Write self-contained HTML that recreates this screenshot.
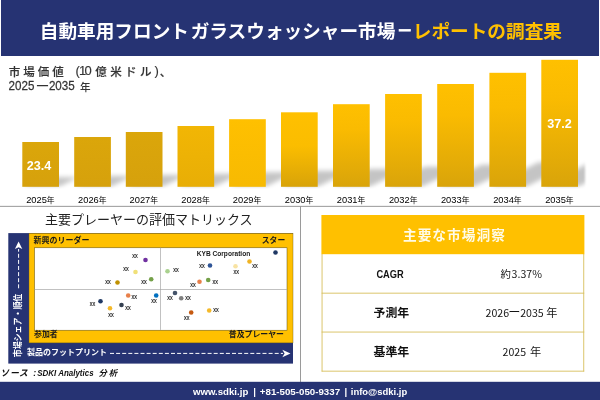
<!DOCTYPE html>
<html lang="ja"><head><meta charset="utf-8"><title>自動車用フロントガラスウォッシャー市場</title>
<style>
html,body{margin:0;padding:0;background:#fff;}
body{width:600px;height:400px;overflow:hidden;position:relative;}
svg{position:absolute;left:0;top:0;display:block;}
text{font-family:"Liberation Sans","Noto Sans CJK JP",sans-serif;}
.jp{font-family:"Noto Sans CJK JP","Liberation Sans",sans-serif;}
.lat{font-family:"Liberation Sans",sans-serif;}
</style></head><body>
<svg width="600" height="400" viewBox="0 0 600 400">
<defs>
<filter id="blur" x="-50%" y="-50%" width="200%" height="200%"><feGaussianBlur stdDeviation="2.2"/></filter>
<filter id="blur3" x="-5%" y="-5%" width="110%" height="110%"><feGaussianBlur stdDeviation="0.9"/></filter>
<linearGradient id="gA" x1="0" y1="0" x2="0" y2="1"><stop offset="0" stop-color="#DBA60A"/><stop offset="1" stop-color="#D6A10C"/></linearGradient>
<linearGradient id="gB" x1="0" y1="0" x2="0" y2="1"><stop offset="0" stop-color="#F2B604"/><stop offset="1" stop-color="#E8AE06"/></linearGradient>
<linearGradient id="gC" x1="0" y1="0" x2="0" y2="1"><stop offset="0" stop-color="#FFC000"/><stop offset="1" stop-color="#F7BA02"/></linearGradient>
<linearGradient id="gD" x1="0" y1="0" x2="0" y2="1"><stop offset="0" stop-color="#FFC000"/><stop offset="0.45" stop-color="#FBBD00"/><stop offset="1" stop-color="#D8A309"/></linearGradient>
<linearGradient id="gE" x1="0" y1="0" x2="0" y2="1"><stop offset="0" stop-color="#FFC000"/><stop offset="0.3" stop-color="#FABB01"/><stop offset="1" stop-color="#D9A40A"/></linearGradient>
</defs>

<rect x="1" y="0" width="598" height="56" fill="#263373"/>
<text class="jp" x="39.8" y="37.7" font-size="18.65" font-weight="700" fill="#fff">自動車用フロント<tspan x="190.7">ガラスウォッシャ</tspan><tspan x="339.4">ー</tspan><tspan x="358.0">市場</tspan><tspan x="412.8" fill="#FFC000">レポートの調査果</tspan></text>
<text class="jp" x="397" y="35.7" font-size="15.5" font-weight="700" fill="#fff" stroke="#fff" stroke-width="0.9">－</text>
<text class="jp" y="75.6" font-size="11.5" font-weight="500" fill="#333" stroke="#333" stroke-width="0.15"><tspan x="8.8" letter-spacing="2.95">市場価値</tspan><tspan class="lat" x="75.5" y="75.4" font-size="13">(</tspan><tspan class="lat" x="79.0" y="75.4" font-size="13">1</tspan><tspan class="lat" x="84.6" y="75.4" font-size="13">0</tspan><tspan x="95.3" y="75.6" letter-spacing="3.4">億米ドル</tspan><tspan class="lat" x="154.6" y="75.4" font-size="13">)</tspan><tspan x="159.8" y="75.6">、</tspan></text>
<text class="lat" transform="translate(8.6,90.4) scale(0.894,1)" font-size="13" fill="#333" stroke="#333" stroke-width="0.25">2025</text>
<text class="jp" x="35.4" y="91.2" font-size="14" fill="#333">ー</text>
<text class="lat" transform="translate(48.9,90.4) scale(0.894,1)" font-size="13" fill="#333" stroke="#333" stroke-width="0.25">2035</text>
<text class="jp" x="80" y="90.6" font-size="10.6" font-weight="500" fill="#333">年</text>
<clipPath id="cp"><rect x="0" y="56" width="585" height="131.5"/></clipPath><g filter="url(#blur3)"><g clip-path="url(#cp)">
<polygon points="22.3,186.8 59.0,186.8 78.3,177.2 41.6,177.2" fill="#000" opacity="0.23" filter="url(#blur)"/>
<polygon points="74.2,186.8 110.9,186.8 132.3,176.1 95.6,176.1" fill="#000" opacity="0.23" filter="url(#blur)"/>
<polygon points="125.8,186.8 162.5,186.8 186.1,175.0 149.4,175.0" fill="#000" opacity="0.23" filter="url(#blur)"/>
<polygon points="177.5,186.8 214.2,186.8 240.3,173.7 203.6,173.7" fill="#000" opacity="0.23" filter="url(#blur)"/>
<polygon points="229.1,186.8 265.8,186.8 294.9,172.3 258.2,172.3" fill="#000" opacity="0.23" filter="url(#blur)"/>
<polygon points="281.0,186.8 317.7,186.8 349.7,170.8 313.0,170.8" fill="#000" opacity="0.23" filter="url(#blur)"/>
<polygon points="333.0,186.8 369.7,186.8 405.2,169.0 368.5,169.0" fill="#000" opacity="0.23" filter="url(#blur)"/>
<polygon points="385.1,186.8 421.8,186.8 461.7,166.8 425.0,166.8" fill="#000" opacity="0.23" filter="url(#blur)"/>
<polygon points="437.2,186.8 473.9,186.8 518.1,164.7 481.4,164.7" fill="#000" opacity="0.23" filter="url(#blur)"/>
<polygon points="489.4,186.8 526.1,186.8 575.1,162.3 538.4,162.3" fill="#000" opacity="0.23" filter="url(#blur)"/>
<polygon points="541.3,186.8 578.0,186.8 632.6,159.5 595.9,159.5" fill="#000" opacity="0.23" filter="url(#blur)"/>
</g></g>
<rect x="22.3" y="142.0" width="36.7" height="44.8" fill="url(#gA)"/>
<text x="40.4" y="203.1" font-size="9.3" text-anchor="middle" fill="#000">2025<tspan class="jp" font-size="7.8">年</tspan></text>
<rect x="74.2" y="137.0" width="36.7" height="49.8" fill="url(#gA)"/>
<text x="92.3" y="203.1" font-size="9.3" text-anchor="middle" fill="#000">2026<tspan class="jp" font-size="7.8">年</tspan></text>
<rect x="125.8" y="132.0" width="36.7" height="54.8" fill="url(#gA)"/>
<text x="143.8" y="203.1" font-size="9.3" text-anchor="middle" fill="#000">2027<tspan class="jp" font-size="7.8">年</tspan></text>
<rect x="177.5" y="126.0" width="36.7" height="60.8" fill="url(#gB)"/>
<text x="195.5" y="203.1" font-size="9.3" text-anchor="middle" fill="#000">2028<tspan class="jp" font-size="7.8">年</tspan></text>
<rect x="229.1" y="119.2" width="36.7" height="67.6" fill="url(#gC)"/>
<text x="247.1" y="203.1" font-size="9.3" text-anchor="middle" fill="#000">2029<tspan class="jp" font-size="7.8">年</tspan></text>
<rect x="281.0" y="112.3" width="36.7" height="74.5" fill="url(#gD)"/>
<text x="299.1" y="203.1" font-size="9.3" text-anchor="middle" fill="#000">2030<tspan class="jp" font-size="7.8">年</tspan></text>
<rect x="333.0" y="104.2" width="36.7" height="82.6" fill="url(#gE)"/>
<text x="351.1" y="203.1" font-size="9.3" text-anchor="middle" fill="#000">2031<tspan class="jp" font-size="7.8">年</tspan></text>
<rect x="385.1" y="94.0" width="36.7" height="92.8" fill="url(#gE)"/>
<text x="403.2" y="203.1" font-size="9.3" text-anchor="middle" fill="#000">2032<tspan class="jp" font-size="7.8">年</tspan></text>
<rect x="437.2" y="84.0" width="36.7" height="102.8" fill="url(#gE)"/>
<text x="455.2" y="203.1" font-size="9.3" text-anchor="middle" fill="#000">2033<tspan class="jp" font-size="7.8">年</tspan></text>
<rect x="489.4" y="72.8" width="36.7" height="114.0" fill="url(#gE)"/>
<text x="507.4" y="203.1" font-size="9.3" text-anchor="middle" fill="#000">2034<tspan class="jp" font-size="7.8">年</tspan></text>
<rect x="541.3" y="59.8" width="36.7" height="127.0" fill="url(#gE)"/>
<text x="559.4" y="203.1" font-size="9.3" text-anchor="middle" fill="#000">2035<tspan class="jp" font-size="7.8">年</tspan></text>
<text x="39" y="170" font-size="12.6" font-weight="700" fill="#fff" text-anchor="middle">23.4</text>
<text x="559.6" y="128" font-size="12.6" font-weight="700" fill="#fff" text-anchor="middle">37.2</text>
<rect x="0" y="205.85" width="600" height="1" fill="#999"/>
<rect x="300" y="206" width="1" height="176" fill="#9a9a9a"/>
<text class="jp" x="44.9" y="223.5" font-size="13" fill="#222">主要プレーヤーの評価マトリックス</text>
<rect x="8.3" y="233.1" width="284.7" height="130.5" fill="#263373"/>
<rect x="29" y="233.3" width="264" height="109.6" fill="#FFC000" stroke="#6b5a1a" stroke-width="0.4"/>
<rect x="34.6" y="247.8" width="252.4" height="82.4" fill="#fff" stroke="#5a4c14" stroke-width="0.5"/>
<rect x="34.6" y="289" width="252.5" height="0.7" fill="#a6a6a6"/>
<rect x="160.2" y="247.6" width="0.7" height="82.3" fill="#a6a6a6"/>
<text class="jp" x="33.4" y="242.7" font-size="8" font-weight="700" fill="#1a1a1a">新興のリーダー</text>
<text class="jp" x="285.2" y="242.7" font-size="7.8" font-weight="700" fill="#1a1a1a" text-anchor="end">スター</text>
<text class="jp" x="34" y="337.4" font-size="7.9" font-weight="700" fill="#1a1a1a">参加者</text>
<text class="jp" x="284" y="337.4" font-size="7.9" font-weight="700" fill="#1a1a1a" text-anchor="end">普及プレーヤー</text>
<text class="jp" x="27" y="355" font-size="8" font-weight="700" fill="#fff">製品のフットプリント</text>
<line x1="110" y1="353.4" x2="283" y2="353.4" stroke="#fff" stroke-width="1" stroke-dasharray="4 2.1"/>
<path d="M290.5 353.5 L282.3 349.8 L284.6 353.5 L282.3 357.2 Z" fill="#fff"/>
<text class="jp" transform="translate(20.6,357.3) rotate(-90) scale(0.885,1)" font-size="9" font-weight="700" fill="#fff">市場シェア・順位</text>
<line x1="18.6" y1="288.3" x2="18.6" y2="249" stroke="#fff" stroke-width="1" stroke-dasharray="4 2.1"/>
<path d="M18.6 241.4 L14.9 249 L18.6 247.2 L22.3 249 Z" fill="#fff"/>
<circle cx="275.5" cy="252.5" r="2.3" fill="#1f3864"/>
<circle cx="249.5" cy="261.5" r="2.3" fill="#f0b323"/>
<circle cx="235.5" cy="266.2" r="2.3" fill="#f8e3a3"/>
<circle cx="210" cy="265.5" r="2.3" fill="#2f5597"/>
<circle cx="167.5" cy="271.2" r="2.3" fill="#a9d18e"/>
<circle cx="151.2" cy="279.2" r="2.3" fill="#74a048"/>
<circle cx="208.2" cy="280" r="2.3" fill="#74a048"/>
<circle cx="199.5" cy="281.7" r="2.3" fill="#e8804a"/>
<circle cx="156.2" cy="295.5" r="2.3" fill="#0070c0"/>
<circle cx="175" cy="293" r="2.3" fill="#44546a"/>
<circle cx="181.2" cy="298.2" r="2.3" fill="#7f7f7f"/>
<circle cx="209.2" cy="310.5" r="2.3" fill="#f4b92a"/>
<circle cx="191.2" cy="312.5" r="2.3" fill="#c55a11"/>
<circle cx="145.5" cy="260" r="2.3" fill="#7030a0"/>
<circle cx="135.5" cy="272" r="2.3" fill="#f0e078"/>
<circle cx="117.5" cy="282.5" r="2.3" fill="#bf9000"/>
<circle cx="128.2" cy="295.5" r="2.3" fill="#e8804a"/>
<circle cx="100.5" cy="301.2" r="2.3" fill="#1f3864"/>
<circle cx="121.5" cy="305" r="2.3" fill="#333f50"/>
<circle cx="110" cy="308.2" r="2.3" fill="#f4b92a"/>
<text transform="translate(176,272) scale(0.74,1)" font-size="7.4" fill="#222" stroke="#222" stroke-width="0.2" text-anchor="middle">xx</text>
<text transform="translate(202,268) scale(0.74,1)" font-size="7.4" fill="#222" stroke="#222" stroke-width="0.2" text-anchor="middle">xx</text>
<text transform="translate(236.2,274) scale(0.74,1)" font-size="7.4" fill="#222" stroke="#222" stroke-width="0.2" text-anchor="middle">xx</text>
<text transform="translate(255,267.7) scale(0.74,1)" font-size="7.4" fill="#222" stroke="#222" stroke-width="0.2" text-anchor="middle">xx</text>
<text transform="translate(215.2,284) scale(0.74,1)" font-size="7.4" fill="#222" stroke="#222" stroke-width="0.2" text-anchor="middle">xx</text>
<text transform="translate(193,287) scale(0.74,1)" font-size="7.4" fill="#222" stroke="#222" stroke-width="0.2" text-anchor="middle">xx</text>
<text transform="translate(154,302.7) scale(0.74,1)" font-size="7.4" fill="#222" stroke="#222" stroke-width="0.2" text-anchor="middle">xx</text>
<text transform="translate(170,300) scale(0.74,1)" font-size="7.4" fill="#222" stroke="#222" stroke-width="0.2" text-anchor="middle">xx</text>
<text transform="translate(188,300) scale(0.74,1)" font-size="7.4" fill="#222" stroke="#222" stroke-width="0.2" text-anchor="middle">xx</text>
<text transform="translate(216,312) scale(0.74,1)" font-size="7.4" fill="#222" stroke="#222" stroke-width="0.2" text-anchor="middle">xx</text>
<text transform="translate(186.7,320) scale(0.74,1)" font-size="7.4" fill="#222" stroke="#222" stroke-width="0.2" text-anchor="middle">xx</text>
<text transform="translate(135,258) scale(0.74,1)" font-size="7.4" fill="#222" stroke="#222" stroke-width="0.2" text-anchor="middle">xx</text>
<text transform="translate(126,271) scale(0.74,1)" font-size="7.4" fill="#222" stroke="#222" stroke-width="0.2" text-anchor="middle">xx</text>
<text transform="translate(108,284) scale(0.74,1)" font-size="7.4" fill="#222" stroke="#222" stroke-width="0.2" text-anchor="middle">xx</text>
<text transform="translate(144,284) scale(0.74,1)" font-size="7.4" fill="#222" stroke="#222" stroke-width="0.2" text-anchor="middle">xx</text>
<text transform="translate(134.3,299) scale(0.74,1)" font-size="7.4" fill="#222" stroke="#222" stroke-width="0.2" text-anchor="middle">xx</text>
<text transform="translate(92.5,305.5) scale(0.74,1)" font-size="7.4" fill="#222" stroke="#222" stroke-width="0.2" text-anchor="middle">xx</text>
<text transform="translate(128,309.5) scale(0.74,1)" font-size="7.4" fill="#222" stroke="#222" stroke-width="0.2" text-anchor="middle">xx</text>
<text transform="translate(111,317) scale(0.74,1)" font-size="7.4" fill="#222" stroke="#222" stroke-width="0.2" text-anchor="middle">xx</text>
<text x="223.5" y="255.8" font-size="6.6" font-weight="700" fill="#1a1a1a" text-anchor="middle">KYB Corporation</text>
<text class="jp" x="0.3" y="375.8" font-size="8.8" font-weight="700" font-style="italic" fill="#111" textLength="27.6" lengthAdjust="spacing">ソース</text>
<text x="33.3" y="375.6" font-size="8.8" font-weight="700" font-style="italic" fill="#111">:</text>
<text x="37.2" y="375.8" font-size="8.8" font-weight="700" font-style="italic" fill="#111" textLength="56.4" lengthAdjust="spacingAndGlyphs">SDKI Analytics</text>
<text class="jp" x="98.6" y="375.8" font-size="8.4" font-weight="700" font-style="italic" fill="#111" textLength="18.4" lengthAdjust="spacing">分析</text>
<rect x="321.6" y="254" width="0.9" height="117.5" fill="#d8bf5c"/>
<rect x="583.3" y="254" width="0.9" height="117.5" fill="#d8bf5c"/>
<rect x="321.6" y="370.7" width="262.6" height="0.9" fill="#d8bf5c"/>
<rect x="321.6" y="292.7" width="262.6" height="0.9" fill="#d8bf5c"/>
<rect x="321.6" y="331.6" width="262.6" height="0.9" fill="#d8bf5c"/>
<rect x="321.4" y="215" width="263" height="39.2" fill="#FFC000"/>
<text class="jp" x="402.9" y="240" font-size="13.7" font-weight="700" fill="#fffbe6" letter-spacing="1.05">主要な市場洞察</text>
<text x="376.4" y="277.7" font-size="10.2" font-weight="700" fill="#111" textLength="27.3" lengthAdjust="spacingAndGlyphs">CAGR</text>
<text class="jp" x="391.4" y="317.1" font-size="11.9" font-weight="700" fill="#111" text-anchor="middle">予測年</text>
<text class="jp" x="391.4" y="356.1" font-size="11.9" font-weight="700" fill="#111" text-anchor="middle">基準年</text>
<text class="jp" y="277.9" font-size="10.6" fill="#151515"><tspan x="500.6" font-size="10.4">約</tspan><tspan x="511.6">3.37%</tspan></text>
<text class="jp" y="317" font-size="10.6" fill="#151515"><tspan x="485.5">2026</tspan><tspan x="508.3" font-size="12.2" dy="0.3">ー</tspan><tspan x="520.2" dy="-0.3">2035</tspan><tspan x="546.3" font-size="11.2">年</tspan></text>
<text class="jp" y="356.1" font-size="10.6" fill="#151515"><tspan x="502.5">2025</tspan><tspan x="530" font-size="11.2">年</tspan></text>
<rect x="0" y="381.8" width="600" height="18.2" fill="#263373"/>
<text y="394.7" font-size="9.5" font-weight="700" fill="#fff"><tspan x="192.9" textLength="55.4" lengthAdjust="spacingAndGlyphs">www.sdki.jp</tspan><tspan x="253.2">|</tspan><tspan x="259.8" textLength="80.3" lengthAdjust="spacingAndGlyphs">+81-505-050-9337</tspan><tspan x="344.4">|</tspan><tspan x="350.8" textLength="56.4" lengthAdjust="spacingAndGlyphs">info@sdki.jp</tspan></text>
</svg></body></html>
